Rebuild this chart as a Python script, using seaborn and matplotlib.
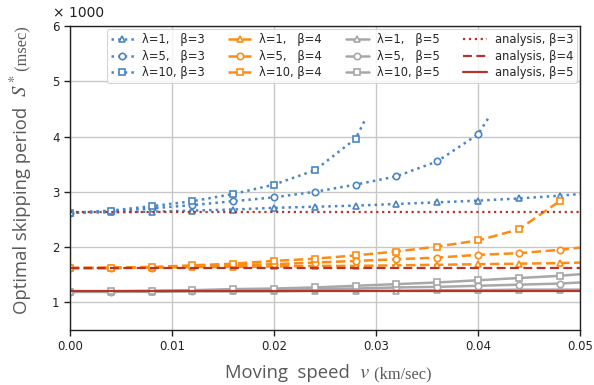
import matplotlib
matplotlib.use("Agg")
import matplotlib.pyplot as plt
import seaborn as sns
import numpy as np
import pandas as pd

# Moving speed (km/sec); markers every 0.004
speed = [0.000, 0.004, 0.008, 0.012, 0.016, 0.020, 0.024,
         0.028, 0.032, 0.036, 0.040, 0.044, 0.048]

# Optimal skipping period (x1000 msec), beta = 3
b3_l1 = [2.62, 2.63, 2.64, 2.66, 2.68, 2.71, 2.73, 2.75, 2.78, 2.81, 2.84, 2.88, 2.93]
b3_l1_end = (0.050, 2.96)
b3_l5 = [2.62, 2.65, 2.70, 2.76, 2.83, 2.90, 3.00, 3.13, 3.28, 3.55, 4.04]
b3_l5_end = (0.041, 4.33)
b3_l10 = [2.62, 2.66, 2.74, 2.83, 2.96, 3.13, 3.39, 3.96]
b3_l10_end = (0.029, 4.33)

# beta = 4
b4_l1 = [1.62, 1.62, 1.63, 1.64, 1.64, 1.65, 1.66, 1.66, 1.67, 1.68, 1.69, 1.70, 1.71]
b4_l1_end = (0.050, 1.72)
b4_l5 = [1.62, 1.62, 1.63, 1.65, 1.67, 1.69, 1.72, 1.75, 1.78, 1.81, 1.86, 1.89, 1.95]
b4_l5_end = (0.050, 1.99)
b4_l10 = [1.62, 1.63, 1.64, 1.67, 1.70, 1.75, 1.79, 1.85, 1.92, 2.01, 2.12, 2.32, 2.83]
b4_l10_end = None

# beta = 5
b5_l1 = [1.19, 1.19, 1.19, 1.20, 1.20, 1.20, 1.21, 1.21, 1.21, 1.22, 1.22, 1.23, 1.23]
b5_l1_end = (0.050, 1.23)
b5_l5 = [1.19, 1.19, 1.20, 1.21, 1.22, 1.23, 1.24, 1.25, 1.27, 1.28, 1.30, 1.32, 1.34]
b5_l5_end = (0.050, 1.36)
b5_l10 = [1.19, 1.20, 1.21, 1.22, 1.24, 1.25, 1.27, 1.30, 1.33, 1.36, 1.40, 1.44, 1.48]
b5_l10_end = (0.050, 1.51)

# analytical values
analysis_speed = [0.0, 0.05]
analysis_b3 = 2.63
analysis_b4 = 1.63
analysis_b5 = 1.20

labels_lambda = ["λ=1,   β={b}", "λ=5,   β={b}", "λ=10, β={b}"]
markers = ["^", "o", "s"]

BLUE = "#4a86c4"
ORANGE = "#ff8c12"
GRAY = "#a8a8a8"
RED = "#b3362c"

sns.set_theme(style="ticks")
plt.rcParams["font.family"] = ["DejaVu Sans"]
plt.rcParams["mathtext.fontset"] = "stix"

fig = plt.figure(figsize=(5.94, 3.85), dpi=100)
ax = fig.add_axes([70 / 594, 1 - 330 / 385, 510 / 594, 304 / 385])

groups = [
    (3, BLUE, ":", [(b3_l1, b3_l1_end), (b3_l5, b3_l5_end), (b3_l10, b3_l10_end)]),
    (4, ORANGE, (0, (3.8, 1.8)), [(b4_l1, b4_l1_end), (b4_l5, b4_l5_end), (b4_l10, b4_l10_end)]),
    (5, GRAY, "-", [(b5_l1, b5_l1_end), (b5_l5, b5_l5_end), (b5_l10, b5_l10_end)]),
]

for beta, color, ls, series in groups:
    for k, (vals, end) in enumerate(series):
        xs = list(speed[:len(vals)])
        ys = list(vals)
        n_mark = len(vals)
        if end is not None:
            xs.append(end[0])
            ys.append(end[1])
        df = pd.DataFrame({"speed": xs, "period": ys})
        sns.lineplot(data=df, x="speed", y="period", ax=ax, color=color,
                     linestyle=ls, linewidth=1.8, marker=markers[k],
                     markevery=list(range(n_mark)), markersize=4.6,
                     markerfacecolor="white", markeredgecolor=color,
                     markeredgewidth=1.2, label=labels_lambda[k].format(b=beta),
                     sort=False, estimator=None)

for val, ls, beta in [(analysis_b3, ":", 3), (analysis_b4, (0, (4, 2)), 4), (analysis_b5, "-", 5)]:
    df = pd.DataFrame({"speed": analysis_speed, "period": [val, val]})
    sns.lineplot(data=df, x="speed", y="period", ax=ax, color=RED,
                 linestyle=ls, linewidth=1.6, label=f"analysis, β={beta}",
                 estimator=None)

ax.set_xlim(0, 0.05)
ax.set_ylim(0.5, 6)
ax.set_xticks([0.0, 0.01, 0.02, 0.03, 0.04, 0.05])
ax.set_xticklabels(["0.00", "0.01", "0.02", "0.03", "0.04", "0.05"])
ax.set_yticks([1, 2, 3, 4, 5, 6])
ax.grid(True, color="#c8c8c8", linewidth=1.0)
ax.set_axisbelow(True)
ax.tick_params(labelsize=8.5, length=4, width=1, color="#222222", labelcolor="#222222")
for s in ax.spines.values():
    s.set_color("#222222")
    s.set_linewidth(1.0)
ax.set_xlabel("")
ax.set_ylabel("")

leg = ax.legend(ncol=4, loc="upper right", fontsize=8.3, frameon=True,
                handlelength=2.0, columnspacing=2.05, labelspacing=0.32,
                borderaxespad=0.25, borderpad=0.35, handletextpad=0.7,
                fancybox=True)
leg.get_frame().set_edgecolor("#cccccc")
leg.get_frame().set_linewidth(0.8)

fig.text(53 / 594, 1 - 17 / 385, "× 1000", fontsize=10, color="#222222",
         ha="left", va="baseline")

# composite axis labels with mixed fonts
LABEL_GRAY = "#595959"
fig.canvas.draw()
renderer = fig.canvas.get_renderer()

x_parts = [
    ("Moving  speed  ", dict(family="Open Sans", size=13.3)),
    ("$v$", dict(size=15)),
    (" (km/sec)", dict(family="Liberation Serif", size=11.8)),
]
y_parts = [
    ("Optimal skipping period  ", dict(family="Open Sans", size=13.3)),
    ("$S^*$", dict(size=15)),
    (" (msec)", dict(family="Liberation Serif", size=11.8)),
]


def place_parts(parts, center, base, vertical):
    texts = []
    for s, props in parts:
        if vertical:
            t = fig.text(0, 0, s, rotation=90, rotation_mode="anchor",
                         ha="left", va="baseline", color=LABEL_GRAY,
                         transform=None, **props)
        else:
            t = fig.text(0, 0, s, ha="left", va="baseline", color=LABEL_GRAY,
                         transform=None, **props)
        texts.append(t)
    lengths = []
    for t in texts:
        bb = t.get_window_extent(renderer)
        lengths.append(bb.height if vertical else bb.width)
    total = sum(lengths)
    pos = center - total / 2
    for t, L in zip(texts, lengths):
        if vertical:
            t.set_position((base, pos))
        else:
            t.set_position((pos, base))
        pos += L


H = fig.bbox.height
place_parts(x_parts, center=328, base=H - 378, vertical=False)
place_parts(y_parts, center=H - 170, base=27, vertical=True)

fig.savefig("out.png", dpi=100)
